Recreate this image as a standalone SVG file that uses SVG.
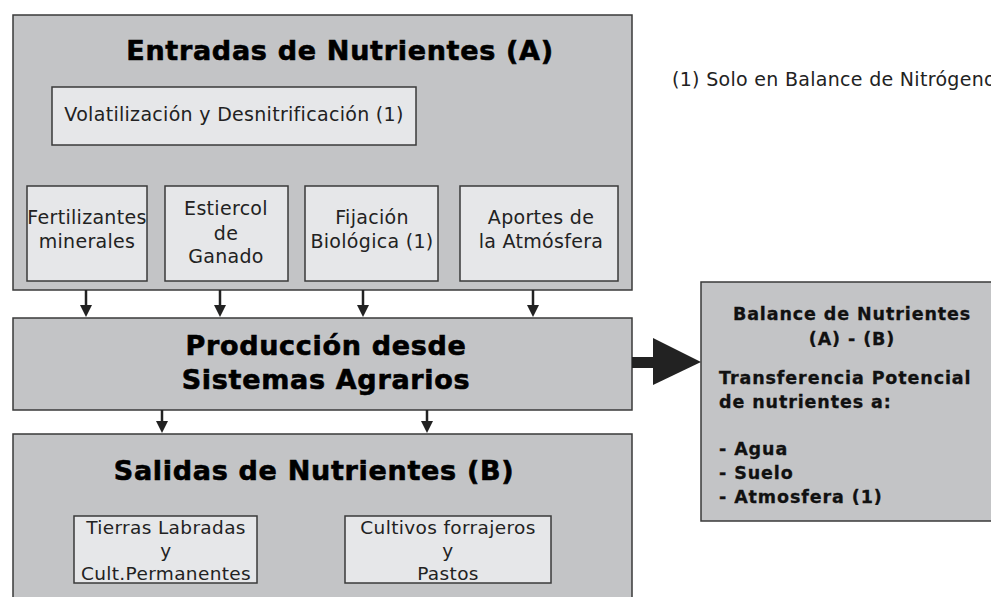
<svg xmlns="http://www.w3.org/2000/svg" width="991" height="597" viewBox="0 0 991 597">
<style>
.outer{fill:#c3c4c6;stroke:#3a3a3a;stroke-width:1.5}
.inner{fill:#e6e7e9;stroke:#3a3a3a;stroke-width:1.5}
.title{font-family:"DejaVu Sans",Verdana,sans-serif;font-weight:bold;font-size:27px;letter-spacing:0.7px;fill:#000;stroke:#000;stroke-width:0.6;text-anchor:middle}
.lbl{font-family:"DejaVu Sans",Verdana,sans-serif;font-size:19px;letter-spacing:0.3px;fill:#222;text-anchor:middle}
.sm{font-family:"DejaVu Sans",Verdana,sans-serif;font-size:18.5px;letter-spacing:0.35px;fill:#222;text-anchor:middle}
.bal{font-family:"DejaVu Sans",Verdana,sans-serif;font-weight:bold;font-size:17.5px;letter-spacing:0.9px;fill:#111;stroke:#111;stroke-width:0.3}
.note{font-family:"DejaVu Sans",Verdana,sans-serif;font-size:19px;letter-spacing:0.3px;fill:#222}
.conn{stroke:#222;stroke-width:2.5;fill:none}
.head{fill:#222}
</style>
<rect width="991" height="597" fill="#fff"/>
<g id="entradas">
<rect class="outer" x="13" y="15" width="619" height="275"/>
<text class="title" x="340" y="60">Entradas de Nutrientes (A)</text>
</g>
<g id="volatilizacion">
<rect class="inner" x="52" y="87" width="364" height="58"/>
<text class="lbl" x="234" y="121">Volatilización y Desnitrificación (1)</text>
</g>
<g id="fertilizantes">
<rect class="inner" x="27" y="186" width="120" height="95"/>
<text class="lbl" x="87" y="224">Fertilizantes</text>
<text class="lbl" x="87" y="248">minerales</text>
</g>
<g id="estiercol">
<rect class="inner" x="165" y="186" width="123" height="95"/>
<text class="lbl" x="226" y="215">Estiercol</text>
<text class="lbl" x="226" y="240">de</text>
<text class="lbl" x="226" y="263">Ganado</text>
</g>
<g id="fijacion">
<rect class="inner" x="305" y="186" width="133" height="95"/>
<text class="lbl" x="372" y="224">Fijación</text>
<text class="lbl" x="372" y="248">Biológica (1)</text>
</g>
<g id="aportes">
<rect class="inner" x="460" y="186" width="158" height="95"/>
<text class="lbl" x="541" y="224">Aportes de</text>
<text class="lbl" x="541" y="248">la Atmósfera</text>
</g>
<g id="produccion">
<rect class="outer" x="13" y="318" width="619" height="92"/>
<text class="title" x="326" y="355">Producción desde</text>
<text class="title" x="326" y="389">Sistemas Agrarios</text>
</g>
<g id="salidas">
<rect class="outer" x="13" y="434" width="619" height="175"/>
<text class="title" x="314" y="480">Salidas de Nutrientes (B)</text>
</g>
<g id="tierras">
<rect class="inner" x="74" y="516" width="183" height="67"/>
<text class="sm" x="166" y="534">Tierras Labradas</text>
<text class="sm" x="166" y="557">y</text>
<text class="sm" x="166" y="580">Cult.Permanentes</text>
</g>
<g id="cultivos">
<rect class="inner" x="345" y="516" width="206" height="67"/>
<text class="sm" x="448" y="534">Cultivos forrajeros</text>
<text class="sm" x="448" y="557">y</text>
<text class="sm" x="448" y="580">Pastos</text>
</g>
<g id="balance">
<rect class="outer" x="701" y="282" width="300" height="239"/>
<text class="bal" x="852" y="320" text-anchor="middle">Balance de Nutrientes</text>
<text class="bal" x="852" y="345" text-anchor="middle">(A) - (B)</text>
<text class="bal" x="719" y="384">Transferencia Potencial</text>
<text class="bal" x="719" y="408">de nutrientes a:</text>
<text class="bal" x="719" y="455">- Agua</text>
<text class="bal" x="719" y="479">- Suelo</text>
<text class="bal" x="719" y="503">- Atmosfera (1)</text>
</g>
<g id="nota">
<text class="note" x="672" y="86">(1) Solo en Balance de Nitrógeno</text>
</g>
<g id="connectors">
<line class="conn" x1="86" y1="290" x2="86" y2="306"/>
<polygon class="head" points="80,305 92,305 86,317"/>
<line class="conn" x1="220" y1="290" x2="220" y2="306"/>
<polygon class="head" points="214,305 226,305 220,317"/>
<line class="conn" x1="363" y1="290" x2="363" y2="306"/>
<polygon class="head" points="357,305 369,305 363,317"/>
<line class="conn" x1="533" y1="290" x2="533" y2="306"/>
<polygon class="head" points="527,305 539,305 533,317"/>
<line class="conn" x1="162" y1="410" x2="162" y2="422"/>
<polygon class="head" points="156,421 168,421 162,433"/>
<line class="conn" x1="427" y1="410" x2="427" y2="422"/>
<polygon class="head" points="421,421 433,421 427,433"/>
<rect class="head" x="632" y="357" width="22" height="11"/>
<polygon class="head" points="653,338 701,362 653,385"/>
</g>
</svg>
